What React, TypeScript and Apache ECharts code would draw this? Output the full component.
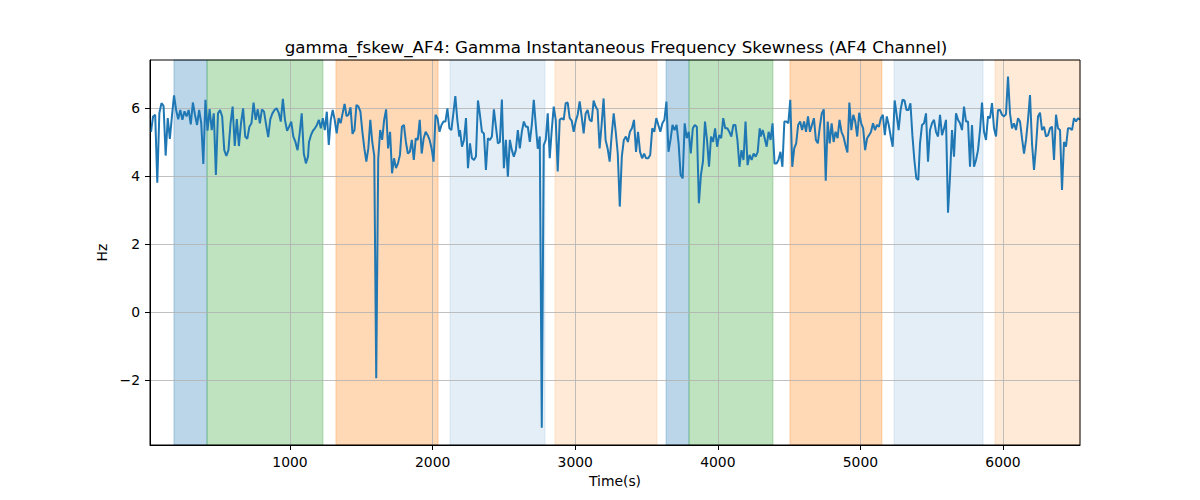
import React, { useEffect, useRef } from 'react';
import * as echarts from 'echarts';

const TITLE = 'gamma_fskew_AF4: Gamma Instantaneous Frequency Skewness (AF4 Channel)';

// time span (s) covered by each traced stretch of the signal
const segmentSpans: [number, number][] = [
  [25, 1126],
  [1133, 2187],
  [2192, 3199],
  [3213, 4294],
  [4301, 5406],
  [5418, 6540],
];

const seg1 = [5.3, 5.75, 5.8, 3.8, 5.85, 6.14, 6.06, 4.6, 5.7, 5.09, 5.76, 6.37, 5.94, 5.67, 5.94, 5.65, 5.9, 5.75, 5.94, 5.52, 6.16, 5.8, 5.5, 5.94, 5.55, 4.35, 6.24, 5.33, 5.97, 5.35, 5.84, 4.03, 5.84, 5.94, 5.75, 4.76, 4.59, 4.76, 5.55, 6.04, 4.88, 5.67, 4.88, 5.55, 5.99, 5.16, 5.09, 5.45, 5.55, 6.16, 5.65, 5.96, 5.55, 5.96, 5.89, 5.5, 5.14, 5.67, 5.84, 5.94, 5.99, 5.86, 5.6, 6.27, 5.65, 5.33, 5.45, 5.6, 5.16, 5.0, 4.76, 5.24, 5.84, 4.66, 4.37, 4.57];
const seg2 = [5.0, 5.2, 5.33, 5.4, 5.5, 5.65, 5.4, 5.7, 5.35, 5.89, 4.91, 5.65, 5.94, 5.65, 5.25, 5.7, 5.55, 5.84, 6.12, 5.76, 5.8, 6.02, 5.24, 5.35, 6.09, 6.04, 5.89, 5.3, 4.81, 4.42, 4.81, 5.65, 5.0, 4.6, -1.95, 4.5, 5.35, 5.06, 5.65, 5.96, 4.81, 5.3, 4.08, 4.52, 4.23, 4.37, 4.62, 5.45, 5.5, 5.0, 4.66, 4.71, 5.06, 4.47, 5.11, 5.06, 5.65, 4.66, 5.11, 5.3, 5.2, 5.06, 4.81, 4.42, 5.8, 5.7, 5.3, 5.5, 5.6, 5.6, 5.99, 5.4, 5.35, 5.84, 6.35, 5.65, 5.16];
const seg3 = [5.35, 4.86, 5.06, 5.7, 4.23, 4.96, 4.52, 4.47, 4.57, 6.22, 5.8, 5.3, 5.25, 4.18, 5.11, 5.06, 5.16, 5.96, 5.45, 4.96, 5.0, 6.25, 4.23, 5.06, 3.98, 5.06, 4.76, 4.57, 4.76, 5.35, 4.81, 5.3, 5.6, 5.45, 5.45, 5.0, 5.5, 6.24, 5.5, 4.8, 5.16, -3.4, 4.91, 5.06, 5.84, 4.52, 5.35, 6.04, 5.65, 4.13, 5.65, 5.7, 5.65, 6.14, 6.16, 5.7, 5.63, 5.3, 5.6, 5.8, 6.19, 5.75, 5.25, 5.84, 5.94, 5.65, 5.6, 6.22, 6.04, 5.94, 4.81, 5.5, 6.28];
const seg4 = [5.06, 4.81, 4.42, 5.2, 5.84, 5.3, 4.66, 3.1, 4.57, 5.06, 5.16, 5.0, 5.3, 5.4, 5.65, 4.71, 5.3, 4.71, 4.52, 4.66, 4.52, 4.52, 4.62, 5.4, 5.3, 5.7, 5.5, 5.3, 5.55, 5.65, 6.19, 4.71, 5.06, 5.5, 5.35, 5.5, 4.96, 4.03, 3.93, 5.55, 5.11, 5.3, 4.66, 5.4, 5.5, 5.45, 3.2, 4.03, 4.42, 5.6, 5.06, 4.27, 5.16, 5.0, 5.4, 4.86, 5.2, 5.11, 5.7, 5.4, 5.4, 5.3, 5.16, 5.5, 5.5, 5.06, 4.27, 4.76, 4.47, 5.6, 4.32, 4.62, 4.47, 4.66, 4.57, 4.71, 5.4];
const seg5 = [5.16, 5.35, 5.11, 4.86, 5.3, 5.06, 5.55, 4.37, 4.37, 4.47, 4.71, 4.27, 5.6, 5.6, 5.55, 6.24, 4.27, 4.81, 4.96, 5.5, 5.6, 5.35, 5.6, 5.3, 5.75, 5.3, 5.5, 5.7, 5.06, 4.96, 5.45, 5.84, 5.96, 3.86, 5.6, 4.96, 5.55, 5.0, 5.3, 5.11, 5.65, 5.3, 5.16, 4.91, 4.69, 6.16, 5.35, 5.8, 5.6, 5.16, 5.86, 5.55, 5.4, 4.76, 5.11, 5.2, 5.3, 5.55, 5.35, 5.5, 5.45, 5.7, 5.8, 5.2, 5.75, 5.5, 5.16, 4.86, 6.22, 5.8, 5.35, 5.94, 6.24, 6.22, 5.94, 5.94, 6.14, 5.2, 4.47, 3.93, 3.88];
const seg6 = [4.96, 5.5, 5.55, 5.84, 4.42, 5.35, 5.55, 5.65, 5.3, 5.16, 5.8, 5.2, 5.4, 5.65, 2.92, 3.98, 5.35, 4.57, 5.84, 5.65, 5.55, 5.35, 6.04, 5.6, 5.6, 4.27, 5.5, 4.27, 4.47, 4.76, 5.35, 6.16, 5.3, 5.06, 5.75, 5.7, 6.14, 5.4, 5.16, 5.94, 5.94, 5.8, 5.75, 5.82, 6.92, 5.84, 5.4, 5.55, 5.35, 5.7, 5.6, 5.11, 4.66, 5.06, 5.65, 6.38, 4.96, 4.18, 4.86, 5.75, 5.86, 5.35, 5.45, 5.16, 5.2, 5.4, 5.45, 4.47, 5.8, 5.4, 5.35, 3.59, 5.0, 4.86, 5.4, 5.4, 5.35, 5.7, 5.6, 5.7, 5.65];
const segments = [seg1, seg2, seg3, seg4, seg5, seg6];

// shaded phases
const bandStart = [186, 418, 1322, 2122, 2858, 3637, 3798, 4506, 5236, 5944];
const bandEnd = [418, 1231, 2038, 2788, 3573, 3798, 4387, 5151, 5860, 6540];
const bandKind = ['blue', 'green', 'orange', 'lightblue', 'lightorange', 'blue', 'green', 'orange', 'lightblue', 'lightorange'];

const xTicks = [1000, 2000, 3000, 4000, 5000, 6000];
const yTicks = [-2, 0, 2, 4, 6];

const bandColors: Record<string, string> = {
  blue: 'rgba(31,119,180,0.3)',
  green: 'rgba(44,160,44,0.3)',
  orange: 'rgba(255,127,14,0.3)',
  lightblue: 'rgba(31,119,180,0.12)',
  lightorange: 'rgba(255,127,14,0.16)',
};

const FONT = 'DejaVu Sans';

const App: React.FC = () => {
  const chartRef = useRef<HTMLDivElement>(null);

  useEffect(() => {
    document.body.style.margin = '0';
    if (!chartRef.current) return;
    const chart = echarts.init(chartRef.current, undefined, { renderer: 'svg' });

    const points: [number, number][] = [];
    segments.forEach((vals, s) => {
      const [t0, t1] = segmentSpans[s];
      vals.forEach((v, i) => {
        points.push([t0 + ((t1 - t0) * i) / (vals.length - 1), v]);
      });
    });

    const areas = bandStart.map((s, i) => [
      {
        xAxis: s,
        itemStyle: { color: bandColors[bandKind[i]], borderColor: bandColors[bandKind[i]], borderWidth: 1 },
      },
      { xAxis: bandEnd[i] },
    ]);

    const fmt = (v: number) => (v < 0 ? '\u2212' + Math.abs(v) : String(v));

    chart.setOption({
      animation: false,
      title: {
        text: TITLE,
        left: 611,
        top: 33,
        textAlign: 'center',
        textStyle: { fontFamily: FONT, fontSize: 16.7, fontWeight: 'normal', color: '#000' },
      },
      grid: {
        left: 150,
        right: 120,
        top: 60,
        bottom: 55,
        show: true,
        borderColor: '#000',
        borderWidth: 1,
        backgroundColor: 'transparent',
        z: 4,
      },
      xAxis: {
        type: 'value',
        min: 18,
        max: 6540,
        z: 2,
        name: 'Time(s)',
        nameLocation: 'middle',
        nameGap: 29,
        nameTextStyle: { fontFamily: FONT, fontSize: 13.9, color: '#000' },
        axisLine: { show: true, onZero: false, lineStyle: { color: '#000', width: 1 } },
        axisTick: { show: true, length: 5, customValues: xTicks, lineStyle: { color: '#000' } },
        axisLabel: { customValues: xTicks, margin: 10, fontFamily: FONT, fontSize: 13.9, color: '#000', formatter: fmt },
        splitLine: { show: true, lineStyle: { color: '#b0b0b0', width: 0.8 } },
      },
      yAxis: {
        type: 'value',
        min: -3.91,
        max: 7.41,
        z: 2,
        name: 'Hz',
        nameLocation: 'middle',
        nameGap: 29,
        nameTextStyle: { fontFamily: FONT, fontSize: 13.9, color: '#000' },
        axisLine: { show: true, onZero: false, lineStyle: { color: '#000', width: 1 } },
        axisTick: { show: true, length: 5, customValues: yTicks, lineStyle: { color: '#000' } },
        axisLabel: { customValues: yTicks, margin: 10, fontFamily: FONT, fontSize: 13.9, color: '#000', formatter: fmt },
        splitLine: { show: true, lineStyle: { color: '#b0b0b0', width: 0.8 } },
      },
      series: [
        {
          name: 'phases',
          type: 'line',
          data: [],
          silent: true,
          z: 1,
          markArea: { silent: true, data: areas },
        },
        {
          name: 'skew',
          type: 'line',
          data: points,
          z: 3,
          showSymbol: false,
          symbol: 'none',
          lineStyle: { color: '#1f77b4', width: 2 },
        },
      ],
    });

    return () => chart.dispose();
  }, []);

  return <div ref={chartRef} style={{ width: 1200, height: 500 }} />;
};

export default App;
